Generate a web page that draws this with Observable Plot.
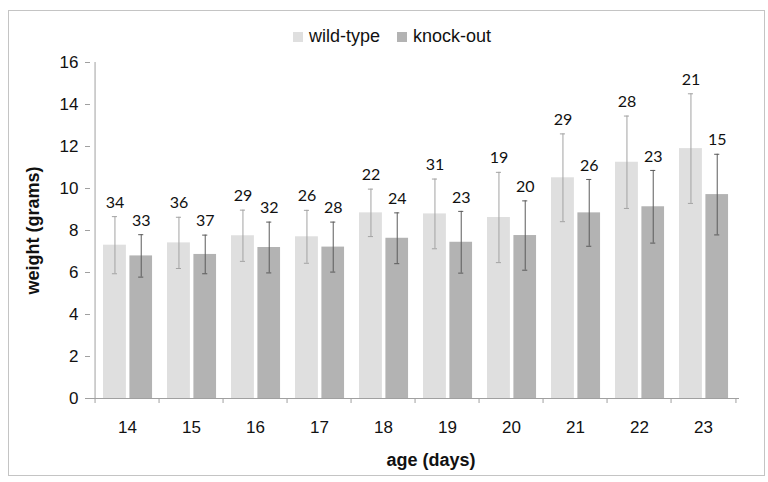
<!DOCTYPE html>
<html>
<head>
<meta charset="utf-8">
<script src="https://cdn.jsdelivr.net/npm/d3@7"></script>
<script src="https://cdn.jsdelivr.net/npm/@observablehq/plot@0.6"></script>
<style>
  html, body { margin: 0; padding: 0; background: #fff; }
  #wrap { position: relative; width: 768px; height: 482px; overflow: hidden; }
  #border { position: absolute; left: 8px; top: 10px; width: 757px; height: 466px; box-sizing: border-box; border: 1px solid #c4c4c4; pointer-events: none; }
  #legend { position: absolute; left: 293px; top: 26px; display: flex; align-items: center; font-family: "Liberation Sans", Arial, sans-serif; font-size: 18px; color: #111; }
  .item { display: flex; align-items: center; margin-right: 17px; }
  .sw { width: 10px; height: 10px; margin-right: 6px; }
</style>
</head>
<body>
<div id="wrap">
  <div id="chart"></div>
  <div id="legend"></div>
  <div id="border"></div>
</div>
<script>
const ages = ["14", "15", "16", "17", "18", "19", "20", "21", "22", "23"];
const seriesNames = ["wild-type", "knock-out"];
const wtMean = [7.30, 7.41, 7.75, 7.70, 8.84, 8.79, 8.62, 10.51, 11.25, 11.90];
const wtSd   = [1.36, 1.22, 1.22, 1.26, 1.13, 1.66, 2.15, 2.09, 2.20, 2.61];
const wtN    = [34, 36, 29, 26, 22, 31, 19, 29, 28, 21];
const koMean = [6.79, 6.86, 7.19, 7.21, 7.63, 7.44, 7.76, 8.84, 9.13, 9.71];
const koSd   = [1.01, 0.92, 1.21, 1.19, 1.21, 1.47, 1.65, 1.59, 1.73, 1.92];
const koN    = [33, 37, 32, 28, 24, 23, 20, 26, 23, 15];
const yTicks = [0, 2, 4, 6, 8, 10, 12, 14, 16];

const colors = {"wild-type": "#dfdfdf", "knock-out": "#b3b3b3"};
const errColors = {"wild-type": "#a3a3a3", "knock-out": "#5a5a5a"};

const rows = ages.map((a, i) => ({age: a, wt: wtMean[i], wtSd: wtSd[i], wtN: wtN[i], ko: koMean[i], koSd: koSd[i], koN: koN[i]}));

const W = 768, H = 482, ml = 90, mr = 29, mt = 62, mb = 84;
const bw = (W - ml - mr) / ages.length;
const pxPerUnit = (H - mt - mb) / 16;
const tickLen = 5 / pxPerUnit;

// bar placement as fractions of band
const wtL = 0.123, wtR = 0.490, koL = 0.530, koR = 0.893;
const wtC = (wtL + wtR) / 2 * bw, koC = (koL + koR) / 2 * bw;
const capHalf = 3;
const axisColor = "#a0a0a0";
const font = "Liberation Sans, Arial, sans-serif";

const chart = Plot.plot({
  width: W, height: H,
  marginLeft: ml, marginRight: mr, marginTop: mt, marginBottom: mb,
  style: {background: "transparent", fontFamily: font},
  x: {type: "band", domain: ages, padding: 0},
  y: {domain: [0, 16]},
  marks: [
    Plot.barY(rows, {x: "age", y: "wt", fill: colors["wild-type"], insetLeft: wtL * bw, insetRight: (1 - wtR) * bw}),
    Plot.barY(rows, {x: "age", y: "ko", fill: colors["knock-out"], insetLeft: koL * bw, insetRight: (1 - koR) * bw}),
    // error bars
    Plot.ruleX(rows, {x: "age", y1: d => d.wt - d.wtSd, y2: d => d.wt + d.wtSd, dx: wtC - bw / 2, stroke: errColors["wild-type"], strokeWidth: 1}),
    Plot.ruleX(rows, {x: "age", y1: d => d.ko - d.koSd, y2: d => d.ko + d.koSd, dx: koC - bw / 2, stroke: errColors["knock-out"], strokeWidth: 1}),
    Plot.tickY(rows, {x: "age", y: d => d.wt + d.wtSd, insetLeft: wtC - capHalf, insetRight: bw - wtC - capHalf, stroke: errColors["wild-type"]}),
    Plot.tickY(rows, {x: "age", y: d => d.wt - d.wtSd, insetLeft: wtC - capHalf, insetRight: bw - wtC - capHalf, stroke: errColors["wild-type"]}),
    Plot.tickY(rows, {x: "age", y: d => d.ko + d.koSd, insetLeft: koC - capHalf, insetRight: bw - koC - capHalf, stroke: errColors["knock-out"]}),
    Plot.tickY(rows, {x: "age", y: d => d.ko - d.koSd, insetLeft: koC - capHalf, insetRight: bw - koC - capHalf, stroke: errColors["knock-out"]}),
    // n labels
    Plot.text(rows, {x: "age", y: d => d.wt + d.wtSd, text: d => String(d.wtN), dx: wtC - bw / 2, dy: -14, lineAnchor: "middle", fontFamily: "Lato, Noto Sans, sans-serif", fontSize: 16, fill: "#111"}),
    Plot.text(rows, {x: "age", y: d => d.ko + d.koSd, text: d => String(d.koN), dx: koC - bw / 2, dy: -14, lineAnchor: "middle", fontFamily: "Lato, Noto Sans, sans-serif", fontSize: 16, fill: "#111"}),
    // axes
    Plot.axisY({ticks: yTicks, tickSize: 5, tickPadding: 7, fontSize: 17, label: null, stroke: axisColor, fill: "#111"}),
    Plot.axisX({tickSize: 0, tickPadding: 22, fontSize: 17, label: null, fill: "#111"}),
    Plot.ruleX([ages[0]], {dx: -bw / 2, y1: 0, y2: 16, stroke: axisColor}),
    Plot.ruleY([0], {stroke: axisColor}),
    Plot.ruleX(ages, {x: d => d, dx: -bw / 2, y1: 0, y2: -tickLen, stroke: axisColor}),
    Plot.ruleX([ages[ages.length - 1]], {dx: bw / 2, y1: 0, y2: -tickLen, stroke: axisColor}),
    // axis titles
    Plot.text(["weight (grams)"], {frameAnchor: "left", dx: -57, rotate: -90, text: d => d, fontWeight: "bold", fontSize: 18, fill: "#111", textAnchor: "middle", lineAnchor: "middle"}),
    Plot.text(["age (days)"], {frameAnchor: "bottom", dy: 62, dx: 16, text: d => d, fontWeight: "bold", fontSize: 18, fill: "#111", textAnchor: "middle", lineAnchor: "middle"})
  ]
});
document.getElementById("chart").appendChild(chart);

const legend = document.getElementById("legend");
seriesNames.forEach(name => {
  const item = document.createElement("div");
  item.className = "item";
  const sw = document.createElement("div");
  sw.className = "sw";
  sw.style.background = colors[name];
  const label = document.createElement("span");
  label.textContent = name;
  item.appendChild(sw);
  item.appendChild(label);
  legend.appendChild(item);
});
</script>
</body>
</html>
